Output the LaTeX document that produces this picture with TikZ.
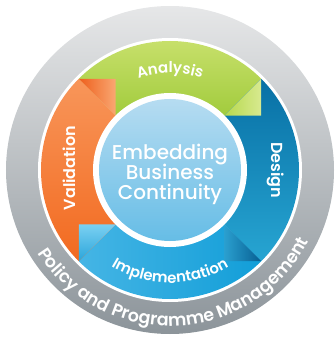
\documentclass[tikz,border=0pt]{standalone}
\usepackage{fontspec}
\setmainfont{Poppins}
\newfontfamily\medfont{Poppins Medium}
\newfontfamily\semifont{Poppins SemiBold}
\usetikzlibrary{decorations.text}
\definecolor{greyTop}{HTML}{E6E7E8}
\definecolor{greyBot}{HTML}{8C949A}
\definecolor{greenTop}{HTML}{CDE372}
\definecolor{greenBot}{HTML}{9FCA3A}
\definecolor{orangeTop}{HTML}{F8965A}
\definecolor{orangeBot}{HTML}{F26A20}
\definecolor{designTop}{HTML}{0870A5}
\definecolor{designBot}{HTML}{27A5D2}
\definecolor{implLeft}{HTML}{45B5E5}
\definecolor{implRight}{HTML}{129ED8}
\definecolor{discTop}{HTML}{B6DCF1}
\definecolor{discMid}{HTML}{7DC6EA}
\definecolor{discBot}{HTML}{66BDE6}
\definecolor{oflapA}{HTML}{EE5F1C}
\definecolor{oflapB}{HTML}{F9A772}
\definecolor{gflapA}{HTML}{B6D84C}
\definecolor{gflapB}{HTML}{D8EA90}
\definecolor{dflapA}{HTML}{2A9FCF}
\definecolor{dflapB}{HTML}{075F92}
\definecolor{iflapA}{HTML}{7AD0F2}
\definecolor{iflapB}{HTML}{2AA5DA}
\tikzset{
  seglabel/.style={text=white, font=\semifont\fontsize{16}{16}\selectfont, inner sep=0pt},
  centertext/.style={text=white, font=\medfont\fontsize{20}{20}\selectfont, inner sep=0pt, anchor=base},
}
\begin{document}
\begin{tikzpicture}[x=1pt,y=1pt]
\useasboundingbox (-170,-167) rectangle (165,170);
% grey outer ring
\shade[top color=greyTop, bottom color=greyBot] (0,0) circle[radius=164];
\fill[white] (0,0) circle[radius=132];
% sectors
\shade[top color=greenTop, bottom color=greenBot]
  (45:129) arc[start angle=45,end angle=135,radius=129] -- (135:70) arc[start angle=135,end angle=45,radius=70] -- cycle;
\shade[top color=designTop, bottom color=designBot]
  (-45:129) arc[start angle=-45,end angle=45,radius=129] -- (45:70) arc[start angle=45,end angle=-45,radius=70] -- cycle;
\shade[left color=implLeft, right color=implRight]
  (225:129) arc[start angle=225,end angle=315,radius=129] -- (315:70) arc[start angle=315,end angle=225,radius=70] -- cycle;
\shade[top color=orangeTop, bottom color=orangeBot]
  (135:129) arc[start angle=135,end angle=225,radius=129] -- (225:70) arc[start angle=225,end angle=135,radius=70] -- cycle;
% flap points
\coordinate (oTL) at (135:129); \coordinate (iTL) at (135:77);
\coordinate (oTR) at (45:129);  \coordinate (iTR) at (45:77);
\coordinate (oBR) at (-45:129); \coordinate (iBR) at (-45:77);
\coordinate (oBL) at (225:129); \coordinate (iBL) at (225:77);
% flaps
\shade[left color=oflapA, right color=oflapB] (oTL) -- (iTL |- oTL) -- (iTL) -- cycle;
\shade[left color=gflapA, right color=gflapB] (oTR) -- (oTR |- iTR) -- (iTR) -- cycle;
\shade[left color=dflapA, right color=dflapB] (oBR) -- (iBR |- oBR) -- (iBR) -- cycle;
\shade[top color=iflapA, bottom color=iflapB] (oBL) -- (oBL |- iBL) -- (iBL) -- cycle;
% centre disc
\fill[white] (0,0) circle[radius=77];
\shade[top color=discTop, middle color=discMid, bottom color=discBot] (0,0) circle[radius=71];
\node[centertext] (l1) at (0,10) {Embedding};
\node[centertext] (l2) at (0,-10) {Business};
\node[centertext] (l3) at (0,-30) {Continuity};
% segment labels
\path[decorate,decoration={text along path,text={|\semifont\fontsize{15}{15}\selectfont\color{white}|Analysis},text align=center}]
  (120:97) arc[start angle=120,end angle=60,radius=97];
\path[decorate,decoration={text along path,text={|\semifont\fontsize{15}{15}\selectfont\color{white}|Implementation},text align=center}]
  (228:113) arc[start angle=228,end angle=312,radius=113];
\node[seglabel, rotate=-90] (design) at (105.5,0) {Design};
\node[seglabel, rotate=90] (validation) at (-101,2) {Validation};
% ring label
\path[decorate,decoration={text along path,text={|\semifont\fontsize{17.5}{17.5}\selectfont\color{white}|Policy and Programme Management},text align=center}]
  (197.5:156) arc[start angle=197.5,end angle=347.5,radius=156];
\end{tikzpicture}
\end{document}
